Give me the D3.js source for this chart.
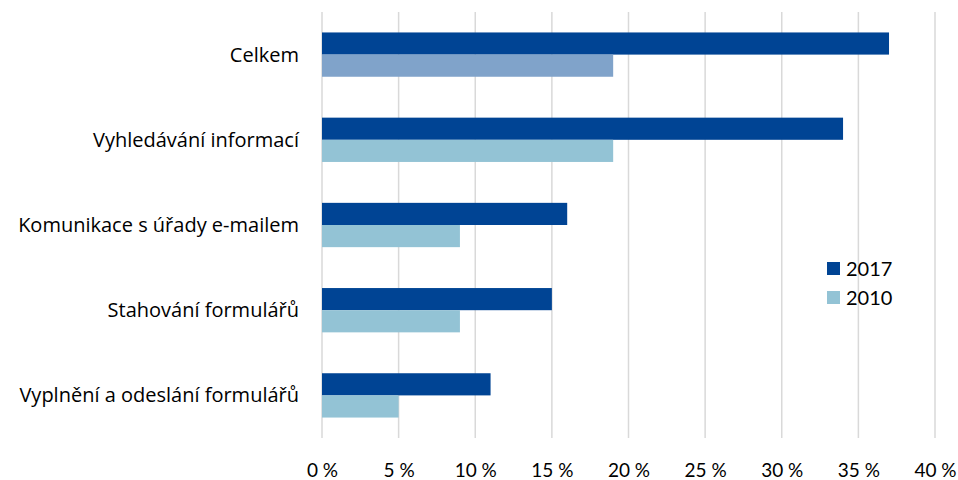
<!DOCTYPE html>
<html lang="cs">
<head>
    <meta charset="UTF-8">
    <title>Chart</title>
    <script src="https://d3js.org/d3.v7.min.js"></script>
    <style>
        body { margin: 0; background: #fff; }
        svg text { font-family: Lato, "Open Sans", sans-serif; fill: #000; }
        .grid line { stroke: #d9d9d9; stroke-width: 1.5; }
        .cat-label { font-family: "Open Sans", sans-serif; }
    </style>
</head>
<body>
    <svg id="chart" width="958" height="480"></svg>

    <script>
        const categories = [
            "Celkem",
            "Vyhledávání informací",
            "Komunikace s úřady e-mailem",
            "Stahování formulářů",
            "Vyplnění a odeslání formulářů"
        ];
        const seriesNames = ["2017", "2010"];
        const values2017 = [37, 34, 16, 15, 11];
        const values2010 = [19, 19, 9, 9, 5];
        const xTicks = [0, 5, 10, 15, 20, 25, 30, 35, 40];

        const color2017 = "#004494";
        const color2010 = "#93c3d5";
        const colorTotal2010 = "#80a3ca";  // "Celkem" 2010 bar is a different shade

        const svg = d3.select("#chart");
        const margin = { top: 12, left: 322, right: 23, bottom: 42 };
        const width = 958 - margin.left - margin.right;
        const height = 480 - margin.top - margin.bottom;

        const g = svg.append("g").attr("transform", `translate(${margin.left},${margin.top})`);

        const x = d3.scaleLinear().domain([0, 40]).range([0, width]);
        const y = d3.scaleBand().domain(categories).range([0, height])
            .paddingInner(0.48).paddingOuter(0.24);
        const ySub = d3.scaleBand().domain(seriesNames).range([0, y.bandwidth()]);

        // gridlines
        g.append("g").attr("class", "grid")
            .selectAll("line")
            .data(xTicks)
            .enter().append("line")
            .attr("x1", d => x(d)).attr("x2", d => x(d))
            .attr("y1", 0).attr("y2", height);

        const data = categories.map((c, i) => ({
            category: c,
            values: [
                { series: "2017", value: values2017[i] },
                { series: "2010", value: values2010[i] }
            ]
        }));

        const groups = g.selectAll(".cat")
            .data(data)
            .enter().append("g")
            .attr("class", "cat")
            .attr("transform", d => `translate(0,${y(d.category)})`);

        groups.selectAll("rect")
            .data(d => d.values.map(v => ({ ...v, category: d.category })))
            .enter().append("rect")
            .attr("x", x(0))
            .attr("y", d => ySub(d.series))
            .attr("width", d => x(d.value) - x(0))
            .attr("height", ySub.bandwidth())
            .attr("fill", d => d.series === "2017" ? color2017
                : (d.category === "Celkem" ? colorTotal2010 : color2010));

        // x axis labels
        const xAxis = g.append("g")
            .attr("transform", `translate(0,${height})`)
            .call(d3.axisBottom(x).tickValues(xTicks).tickSize(0).tickPadding(26)
                .tickFormat(d => d + " %"));
        xAxis.select(".domain").remove();
        xAxis.selectAll("text").style("font-size", "19px").style("font-family", "Lato, sans-serif");

        // category labels
        g.append("g").selectAll("text")
            .data(categories)
            .enter().append("text")
            .attr("class", "cat-label")
            .attr("x", -23)
            .attr("y", d => y(d) + y.bandwidth() / 2)
            .attr("dy", "0.35em")
            .attr("text-anchor", "end")
            .style("font-size", "20px")
            .text(d => d);

        // legend
        const legend = svg.append("g").attr("transform", "translate(827,262)");
        const legendColors = [color2017, color2010];
        const items = legend.selectAll("g")
            .data(seriesNames)
            .enter().append("g")
            .attr("transform", (d, i) => `translate(0,${i * 29})`);
        items.append("rect")
            .attr("width", 13).attr("height", 13)
            .attr("fill", (d, i) => legendColors[i]);
        items.append("text")
            .attr("x", 19).attr("y", 6.5).attr("dy", "0.36em")
            .style("font-size", "20px")
            .text(d => d);
    </script>
</body>
</html>
